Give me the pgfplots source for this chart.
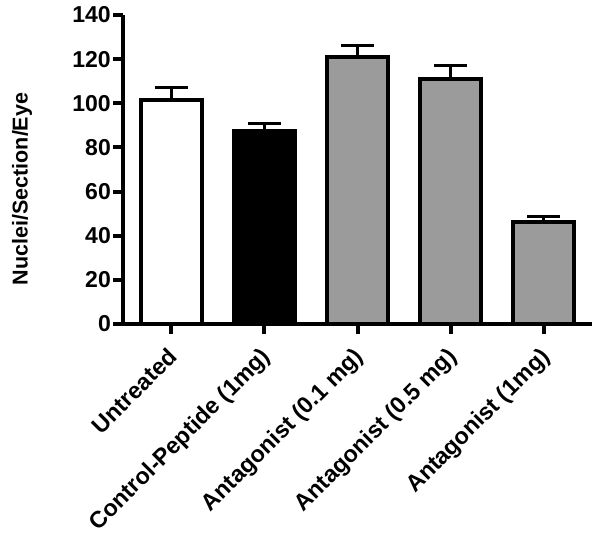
\documentclass[border=0pt]{standalone}
\usepackage{pgfplots}
\pgfplotsset{compat=1.18}
\usepackage{fontspec}
\setmainfont{Liberation Sans}
\definecolor{barGray}{RGB}{155,155,155}
\begin{document}
\begin{tikzpicture}
\path[use as bounding box] (-123pt,-213pt) rectangle (477pt,324pt);
\begin{axis}[
  at={(0,0)}, anchor=south west,
  scale only axis, width=469pt, height=309pt,
  xmin=-0.52, xmax=4.52, ymin=0, ymax=140,
  axis x line*=bottom, axis y line*=left,
  axis line style={line width=4pt, -},
  every tick/.style={black, line width=4pt},
  tick align=outside, major tick length=10pt,
  xtick={0,1,2,3,4},
  xticklabels={Untreated, Control-Peptide (1mg), Antagonist (0.1 mg), Antagonist (0.5 mg), Antagonist (1mg)},
  ytick={0,20,...,140},
  /pgf/number format/assume math mode=true,
  yticklabel style={font=\fontsize{23}{26}\selectfont\bfseries, inner sep=2pt},
  xticklabel style={font=\fontsize{23.3}{26}\selectfont\bfseries, rotate=45, anchor=north east, inner sep=0pt, yshift=-5pt, xshift=-12pt},
  ylabel={Nuclei/Section/Eye},
  ylabel style={font=\fontsize{21.5}{24}\selectfont\bfseries, at={(axis description cs:-0.215,0.437)}, anchor=center},
  ybar, bar width=0.656,
  error bars/error bar style={line width=3pt, black},
  error bars/error mark options={rotate=90, line width=3pt, mark size=16.5pt, black},
]
\addplot[bar shift=0pt, draw=black, line width=4pt, fill=white,
  error bars/.cd, y dir=plus, y explicit]
  coordinates {(0,101.3) +- (0,5.8)};
\addplot[bar shift=0pt, draw=black, line width=4pt, fill=black,
  error bars/.cd, y dir=plus, y explicit]
  coordinates {(1,87.4) +- (0,3.5)};
\addplot[bar shift=0pt, draw=black, line width=4pt, fill=barGray,
  error bars/.cd, y dir=plus, y explicit]
  coordinates {(2,120.8) +- (0,5.5) (3,110.9) +- (0,6.1) (4,46.4) +- (0,2.5)};
\end{axis}
\end{tikzpicture}
\end{document}
